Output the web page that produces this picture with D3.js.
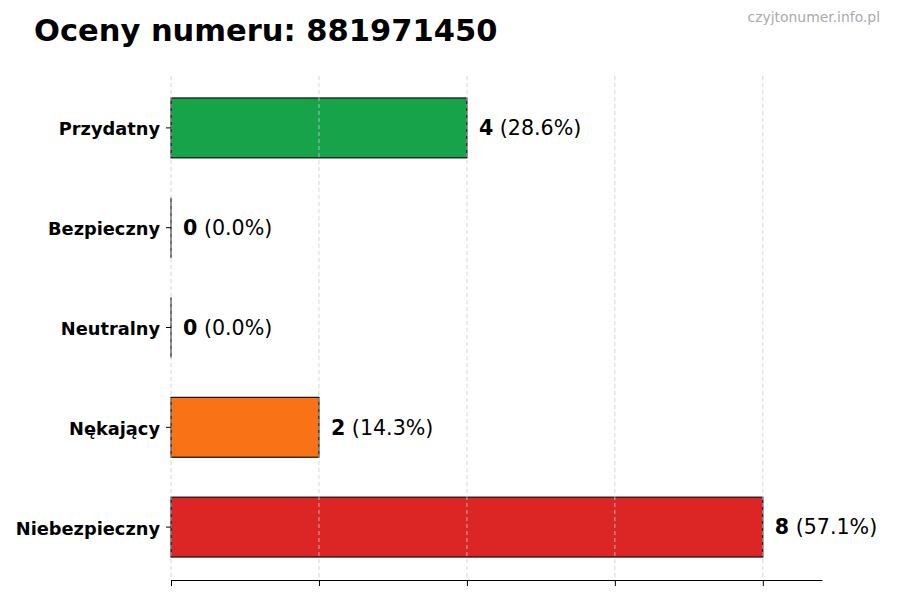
<!DOCTYPE html>
<html lang="pl">
<head>
    <meta charset="UTF-8">
    <title>Oceny numeru: 881971450</title>
    <script src="https://d3js.org/d3.v7.min.js"></script>
    <style>
        body {
            margin: 0;
            background: #ffffff;
            font-family: "DejaVu Sans", sans-serif;
        }
        svg {
            display: block;
        }
        .grid line {
            stroke: #cccccc;
            stroke-width: 0.8px;
            stroke-dasharray: 4, 3;
        }
        .value {
            font-size: 20.6px;
            fill: #000;
        }
    </style>
</head>
<body>
    <svg></svg>
    <script>
        const categories = ["Przydatny", "Bezpieczny", "Neutralny", "Nękający", "Niebezpieczny"];
        const counts = [4, 0, 0, 2, 8];
        const colors = ["#16a34a", "#16a34a", "#9ca3af", "#f97316", "#dc2626"];
        const xTicks = [0, 2, 4, 6, 8];

        const width = 900;
        const height = 600;
        const margin = { top: 76, right: 78, bottom: 20, left: 171 };

        const svg = d3.select("svg")
            .attr("width", width)
            .attr("height", height);

        const total = d3.sum(counts);
        const xMax = d3.max(counts) * 1.1;

        const x = d3.scaleLinear()
            .domain([0, xMax])
            .range([margin.left, width - margin.right]);

        const y = d3.scaleBand()
            .domain(categories)
            .range([78, 577])
            .paddingInner(0.4)
            .paddingOuter(0.2);

        // title and watermark
        svg.append("text")
            .attr("x", 34)
            .attr("y", 41)
            .attr("font-size", "30.5px")
            .attr("font-weight", "bold")
            .text("Oceny numeru: 881971450");

        svg.append("text")
            .attr("x", 880)
            .attr("y", 22)
            .attr("text-anchor", "end")
            .attr("font-size", "13.9px")
            .attr("fill", "#aaaaaa")
            .text("czyjtonumer.info.pl");

        // bars
        const bars = svg.append("g");
        bars.selectAll("rect")
            .data(categories.filter((d, i) => counts[i] > 0))
            .enter().append("rect")
            .attr("x", x(0))
            .attr("y", d => y(d))
            .attr("width", d => x(counts[categories.indexOf(d)]) - x(0))
            .attr("height", y.bandwidth())
            .attr("fill", d => colors[categories.indexOf(d)])
            .attr("stroke", "#111")
            .attr("stroke-width", 1.2);

        // zero-width bars still show their edge
        bars.selectAll("line")
            .data(categories.filter((d, i) => counts[i] === 0))
            .enter().append("line")
            .attr("x1", x(0))
            .attr("x2", x(0))
            .attr("y1", d => y(d))
            .attr("y2", d => y(d) + y.bandwidth())
            .attr("stroke", "#111")
            .attr("stroke-width", 1.2);

        // vertical grid (drawn over the bars like the original)
        svg.append("g")
            .attr("class", "grid")
            .selectAll("line")
            .data(xTicks)
            .enter().append("line")
            .attr("x1", d => x(d))
            .attr("x2", d => x(d))
            .attr("y1", margin.top)
            .attr("y2", height - margin.bottom);

        // bottom axis without labels
        svg.append("g")
            .attr("transform", `translate(0,${height - margin.bottom})`)
            .call(d3.axisBottom(x).tickValues(xTicks).tickFormat("").tickSize(6).tickSizeOuter(0))
            .call(g => g.select(".domain").attr("stroke", "#000").attr("stroke-width", 1));

        // left ticks + labels, no spine
        svg.append("g")
            .attr("transform", `translate(${margin.left},0)`)
            .call(d3.axisLeft(y).tickSize(5).tickPadding(6))
            .call(g => g.select(".domain").remove())
            .call(g => g.selectAll("text")
                .attr("font-family", "DejaVu Sans, sans-serif")
                .attr("font-weight", "bold")
                .attr("fill", "#000")
                .attr("dy", "0.42em")
                .style("font-size", "17.8px"));

        // value labels
        const labels = svg.append("g")
            .selectAll("text")
            .data(categories)
            .enter().append("text")
            .attr("class", "value")
            .attr("x", (d, i) => x(counts[i]) + 12)
            .attr("y", d => y(d) + y.bandwidth() / 2)
            .attr("dy", "0.35em");

        labels.append("tspan")
            .attr("font-weight", "bold")
            .text((d, i) => counts[i]);

        labels.append("tspan")
            .text((d, i) => " (" + (counts[i] / total * 100).toFixed(1) + "%)");
    </script>
</body>
</html>
